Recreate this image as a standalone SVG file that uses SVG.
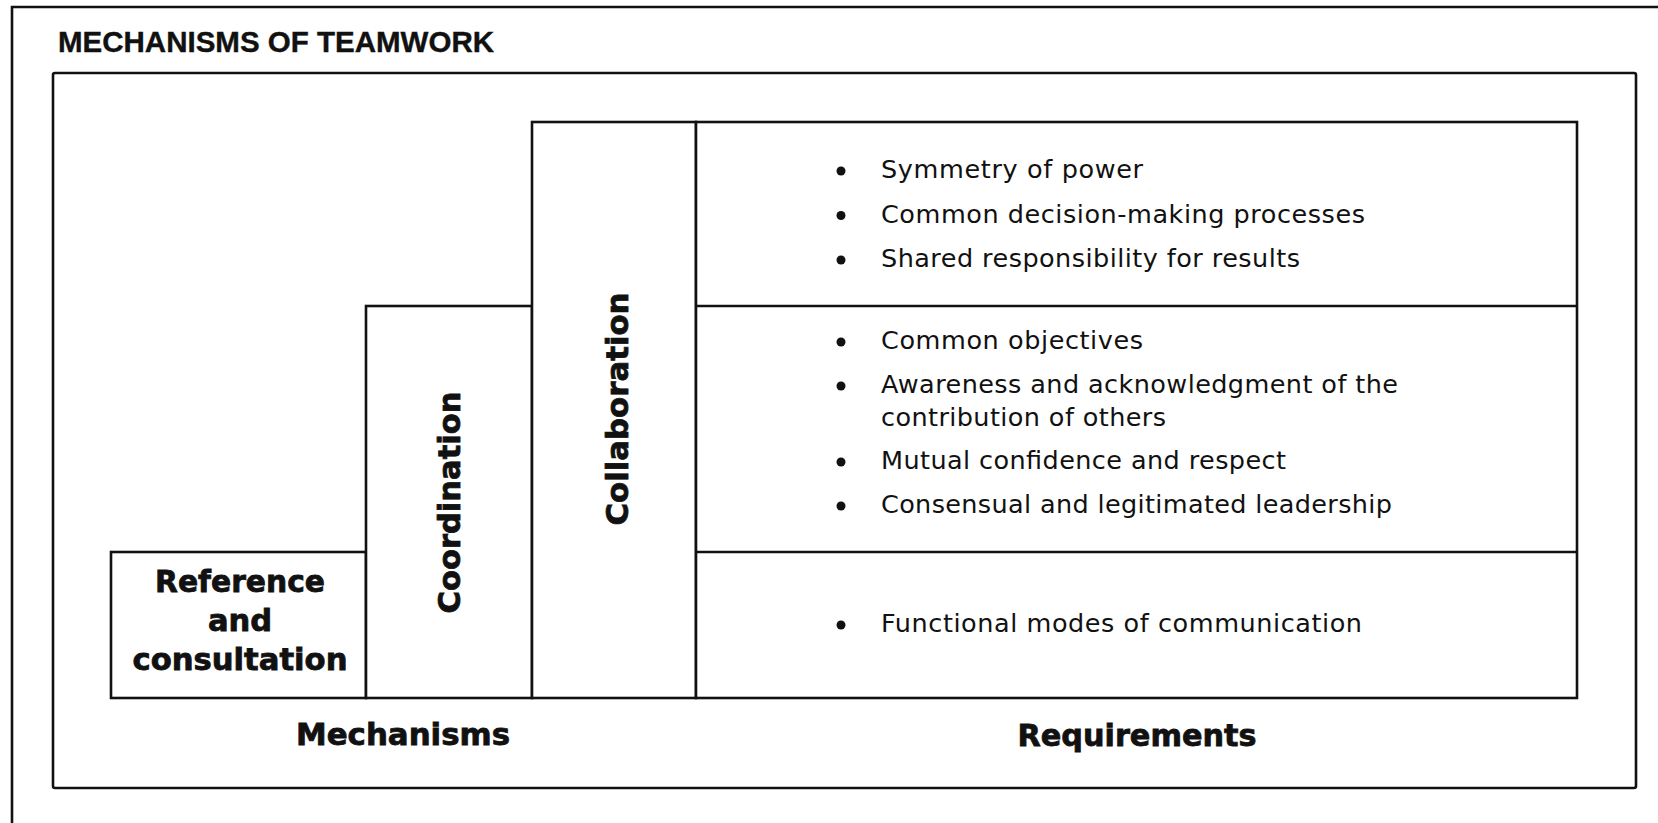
<svg xmlns="http://www.w3.org/2000/svg" width="1658" height="823" viewBox="0 0 1658 823">
  <style>
    .ln { fill: none; stroke: #111; stroke-width: 2.6; }
    .box { fill: #fff; stroke: #111; stroke-width: 2.6; }
    .title { font-family: "Liberation Sans", Arial, sans-serif; font-weight: bold; font-size: 30px; fill: #111; stroke: #111; stroke-width: 0.4; }
    .lbl { font-family: "DejaVu Sans", "Liberation Sans", sans-serif; font-weight: bold; font-size: 30.5px; fill: #111; stroke: #111; stroke-width: 0.8; }
    .item { font-family: "DejaVu Sans", "Liberation Sans", sans-serif; font-size: 25.5px; fill: #111; }
    .dot { fill: #111; }
  </style>
  <defs>
    <circle id="bullet" r="4.5" class="dot"/>
  </defs>
  <rect x="0" y="0" width="1658" height="823" fill="#fff"/>

  <g id="outer-frame">
    <path class="ln" d="M12,823 V7 H1658"/>
  </g>
  <g id="title">
    <text class="title" x="58" y="52" textLength="436" lengthAdjust="spacingAndGlyphs">MECHANISMS OF TEAMWORK</text>
  </g>
  <g id="inner-frame">
    <rect class="ln" x="53" y="73" width="1583" height="715" rx="2"/>
  </g>

  <g id="connectors"></g>

  <g id="node-reference">
    <rect class="box" x="111" y="552" width="255" height="146"/>
    <text class="lbl" x="240" y="592" text-anchor="middle" textLength="170" lengthAdjust="spacingAndGlyphs">Reference</text>
    <text class="lbl" x="240" y="631" text-anchor="middle">and</text>
    <text class="lbl" x="240" y="670" text-anchor="middle" textLength="215" lengthAdjust="spacingAndGlyphs">consultation</text>
  </g>

  <g id="node-coordination">
    <rect class="box" x="366" y="306" width="166" height="392"/>
    <text class="lbl" transform="translate(460,502.5) rotate(-90)" x="0" y="0" text-anchor="middle" textLength="222" lengthAdjust="spacingAndGlyphs">Coordination</text>
  </g>

  <g id="node-collaboration">
    <rect class="box" x="532" y="122" width="164" height="576"/>
    <text class="lbl" transform="translate(627.5,409) rotate(-90)" x="0" y="0" text-anchor="middle" textLength="233" lengthAdjust="spacingAndGlyphs">Collaboration</text>
  </g>

  <g id="node-requirements">
    <rect class="box" x="696" y="122" width="881" height="576"/>
    <line class="ln" x1="696" y1="306" x2="1577" y2="306"/>
    <line class="ln" x1="696" y1="552" x2="1577" y2="552"/>

    <g id="req-collaboration">
      <use href="#bullet" x="841" y="171"/>
      <text class="item" x="881" y="178" textLength="262">Symmetry of power</text>
      <use href="#bullet" x="841" y="215.5"/>
      <text class="item" x="881" y="222.5" textLength="484">Common decision-making processes</text>
      <use href="#bullet" x="841" y="260"/>
      <text class="item" x="881" y="267" textLength="419">Shared responsibility for results</text>
    </g>

    <g id="req-coordination">
      <use href="#bullet" x="841" y="342"/>
      <text class="item" x="881" y="349" textLength="262">Common objectives</text>
      <use href="#bullet" x="841" y="386"/>
      <text class="item" x="881" y="393" textLength="517">Awareness and acknowledgment of the</text>
      <text class="item" x="881" y="426" textLength="285">contribution of others</text>
      <use href="#bullet" x="841" y="462"/>
      <text class="item" x="881" y="469" textLength="405">Mutual confidence and respect</text>
      <use href="#bullet" x="841" y="506"/>
      <text class="item" x="881" y="513" textLength="511">Consensual and legitimated leadership</text>
    </g>

    <g id="req-reference">
      <use href="#bullet" x="841" y="625"/>
      <text class="item" x="881" y="632" textLength="481">Functional modes of communication</text>
    </g>
  </g>

  <g id="axis-labels">
    <text class="lbl" x="403" y="745" text-anchor="middle" textLength="214" lengthAdjust="spacingAndGlyphs">Mechanisms</text>
    <text class="lbl" x="1137" y="746" text-anchor="middle" textLength="239" lengthAdjust="spacingAndGlyphs">Requirements</text>
  </g>
</svg>
